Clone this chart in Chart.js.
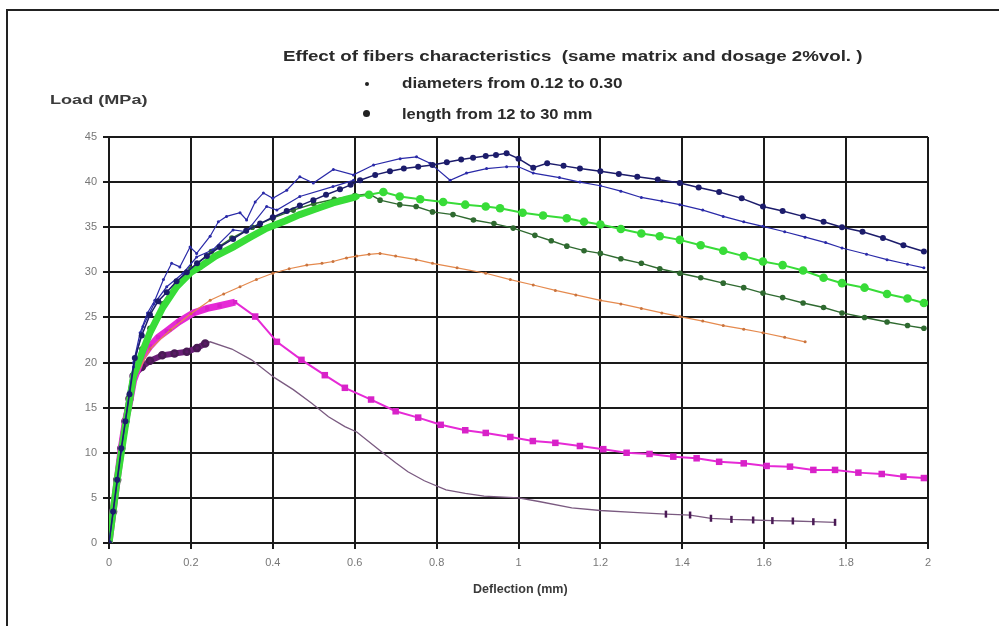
<!DOCTYPE html>
<html>
<head>
<meta charset="utf-8">
<script src="https://cdn.jsdelivr.net/npm/chart.js@4"></script>
<style>
  html, body { margin: 0; padding: 0; background: #fff; }
  body { width: 999px; height: 626px; position: relative; overflow: hidden; font-family: "Liberation Sans", Arial, sans-serif; }
  #frame { position: absolute; left: 6px; top: 9px; width: 1000px; height: 640px; border-top: 2px solid #222; border-left: 2px solid #222; }
  canvas { position: absolute; left: 0; top: 0; }
  .txt { position: absolute; white-space: nowrap; font-weight: bold; color: #2a2a2a; transform-origin: 0 50%; }
  .dot { position: absolute; background: #222; border-radius: 50%; }
</style>
</head>
<body>
<div id="frame"></div>
<canvas id="chart" width="999" height="626"></canvas>
<div class="txt" id="title" data-w="579" style="left:283px; top:47px; font-size:15px;">Effect of fibers characteristics&nbsp; (same matrix and dosage 2%vol. )</div>
<div class="dot" style="left:365px; top:82px; width:4px; height:4px;"></div>
<div class="txt" id="sub1" data-w="220" style="left:402px; top:74px; font-size:15px;">diameters from 0.12 to 0.30</div>
<div class="dot" style="left:363px; top:110px; width:7px; height:7px;"></div>
<div class="txt" id="sub2" data-w="190" style="left:402px; top:105px; font-size:15px;">length from 12 to 30 mm</div>
<div class="txt" id="ylab" data-w="98" style="left:50px; top:93px; font-size:12px; color:#3a3a3a;">Load (MPa)</div>
<div class="txt" id="xlab" data-w="95" style="left:473px; top:582px; font-size:12px; color:#3a3a3a;">Deflection (mm)</div>
<script>
// axis ticks
const xTicks = [0, 0.2, 0.4, 0.6, 0.8, 1, 1.2, 1.4, 1.6, 1.8, 2];
const yTicks = [0, 5, 10, 15, 20, 25, 30, 35, 40, 45];

// length series (big navy dots)
const navyX = [0, 0.01, 0.02, 0.03, 0.04, 0.05, 0.063, 0.08, 0.1, 0.12, 0.141, 0.165, 0.19, 0.215, 0.239, 0.27, 0.303, 0.335, 0.369, 0.40, 0.434, 0.466, 0.499, 0.53, 0.564, 0.59, 0.613, 0.65, 0.686, 0.72, 0.755, 0.79, 0.825, 0.86, 0.889, 0.92, 0.945, 0.971, 1.0, 1.036, 1.07, 1.11, 1.15, 1.2, 1.245, 1.29, 1.34, 1.394, 1.44, 1.49, 1.545, 1.597, 1.645, 1.695, 1.745, 1.79, 1.84, 1.89, 1.94, 1.99];
const navyY = [0, 3.5, 7, 10.5, 13.5, 16.5, 20.5, 23, 25.3, 26.8, 27.8, 29, 30, 31, 31.8, 32.8, 33.7, 34.6, 35.4, 36.1, 36.8, 37.4, 38, 38.6, 39.2, 39.7, 40.2, 40.8, 41.2, 41.5, 41.7, 41.9, 42.2, 42.5, 42.7, 42.9, 43.0, 43.2, 42.6, 41.6, 42.1, 41.8, 41.5, 41.2, 40.9, 40.6, 40.3, 39.9, 39.4, 38.9, 38.2, 37.3, 36.8, 36.2, 35.6, 35.0, 34.5, 33.8, 33.0, 32.3];

// diameter series (thin blue, jagged before peak)
const blueX = [0, 0.01, 0.02, 0.03, 0.04, 0.05, 0.06, 0.076, 0.094, 0.112, 0.133, 0.153, 0.173, 0.198, 0.214, 0.247, 0.267, 0.287, 0.32, 0.336, 0.357, 0.377, 0.40, 0.434, 0.466, 0.499, 0.548, 0.597, 0.646, 0.711, 0.751, 0.784, 0.833, 0.873, 0.922, 0.971, 1.0, 1.036, 1.1, 1.15, 1.2, 1.25, 1.3, 1.35, 1.394, 1.45, 1.5, 1.55, 1.597, 1.65, 1.7, 1.75, 1.79, 1.85, 1.9, 1.95, 1.99];
const blueY = [0, 3.3, 6.8, 10.2, 13.5, 16.8, 20, 23.3, 25.5, 26.9, 29.2, 31.0, 30.6, 32.8, 32.1, 34.0, 35.6, 36.2, 36.6, 35.8, 37.8, 38.8, 38.2, 39.1, 40.6, 39.9, 41.4, 40.8, 41.9, 42.6, 42.8, 42.1, 40.2, 41.0, 41.5, 41.7, 41.7, 41.0, 40.5, 40.0, 39.6, 39.0, 38.3, 37.9, 37.5, 36.9, 36.2, 35.6, 35.1, 34.5, 33.9, 33.3, 32.7, 32.0, 31.4, 30.9, 30.5];

// second jagged blue trace
const blue2X = [0.06, 0.083, 0.11, 0.141, 0.181, 0.214, 0.254, 0.303, 0.336, 0.385, 0.41, 0.466, 0.547, 0.597];
const blue2Y = [19.5, 24.0, 26.5, 28.4, 29.9, 31.7, 32.5, 34.7, 34.5, 37.3, 36.9, 38.4, 39.5, 40.2];

// light green (big dots)
const lgreenX = [0, 0.02, 0.04, 0.06, 0.08, 0.1, 0.13, 0.165, 0.2, 0.222, 0.26, 0.303, 0.345, 0.385, 0.43, 0.466, 0.51, 0.547, 0.58, 0.605, 0.635, 0.67, 0.71, 0.76, 0.816, 0.87, 0.92, 0.955, 1.01, 1.06, 1.118, 1.16, 1.2, 1.25, 1.3, 1.345, 1.394, 1.445, 1.5, 1.55, 1.597, 1.645, 1.695, 1.745, 1.79, 1.845, 1.9, 1.95, 1.99];
const lgreenY = [0, 7, 13, 18.5, 21, 23.3, 26, 28.4, 30, 30.6, 31.8, 32.8, 33.9, 34.9, 35.7, 36.4, 37.1, 37.7, 38.1, 38.4, 38.6, 38.9, 38.4, 38.1, 37.8, 37.5, 37.3, 37.1, 36.6, 36.3, 36.0, 35.6, 35.3, 34.8, 34.3, 34.0, 33.6, 33.0, 32.4, 31.8, 31.2, 30.8, 30.2, 29.4, 28.8, 28.3, 27.6, 27.1, 26.6];

// dark green (small dots)
const dgreenX = [0, 0.02, 0.04, 0.06, 0.08, 0.1, 0.13, 0.165, 0.2, 0.25, 0.3, 0.35, 0.4, 0.45, 0.5, 0.55, 0.6, 0.635, 0.662, 0.71, 0.75, 0.79, 0.84, 0.89, 0.94, 0.987, 1.04, 1.08, 1.118, 1.16, 1.2, 1.25, 1.3, 1.345, 1.394, 1.445, 1.5, 1.55, 1.597, 1.645, 1.695, 1.745, 1.79, 1.845, 1.9, 1.95, 1.99];
const dgreenY = [0, 7, 13, 18.5, 21.5, 23.8, 26.5, 28.8, 30.4, 32.3, 33.8, 35.0, 36.0, 36.9, 37.6, 38.1, 38.5, 38.7, 38.0, 37.5, 37.3, 36.7, 36.4, 35.8, 35.4, 34.9, 34.1, 33.5, 32.9, 32.4, 32.1, 31.5, 31.0, 30.4, 29.9, 29.4, 28.8, 28.3, 27.7, 27.2, 26.6, 26.1, 25.5, 25.0, 24.5, 24.1, 23.8];

// orange (small dots)
const orangeX = [0, 0.02, 0.04, 0.06, 0.1, 0.15, 0.2, 0.247, 0.28, 0.32, 0.36, 0.40, 0.44, 0.483, 0.52, 0.547, 0.58, 0.605, 0.635, 0.662, 0.7, 0.75, 0.79, 0.85, 0.92, 0.98, 1.036, 1.09, 1.14, 1.2, 1.25, 1.3, 1.35, 1.394, 1.45, 1.5, 1.55, 1.597, 1.65, 1.70];
const orangeY = [0, 7, 13, 18, 21.5, 23.6, 25.4, 26.9, 27.6, 28.4, 29.2, 29.9, 30.4, 30.8, 31.0, 31.2, 31.6, 31.8, 32.0, 32.1, 31.8, 31.4, 31.0, 30.5, 29.9, 29.2, 28.6, 28.0, 27.5, 26.9, 26.5, 26.0, 25.5, 25.1, 24.6, 24.1, 23.7, 23.3, 22.8, 22.3];

// magenta (squares)
const pinkX = [0, 0.01, 0.02, 0.03, 0.04, 0.05, 0.06, 0.08, 0.1, 0.12, 0.141, 0.17, 0.206, 0.24, 0.27, 0.308, 0.357, 0.41, 0.47, 0.527, 0.576, 0.64, 0.70, 0.755, 0.81, 0.87, 0.92, 0.98, 1.035, 1.09, 1.15, 1.207, 1.264, 1.32, 1.378, 1.435, 1.49, 1.55, 1.606, 1.663, 1.72, 1.773, 1.83, 1.887, 1.94, 1.99];
const pinkY = [0, 3.5, 7, 10.5, 13.5, 15.5, 18, 20.5, 21.8, 22.8, 23.5, 24.5, 25.5, 26.0, 26.3, 26.7, 25.1, 22.3, 20.3, 18.6, 17.2, 15.9, 14.6, 13.9, 13.1, 12.5, 12.2, 11.75, 11.3, 11.1, 10.75, 10.4, 10.0, 9.87, 9.57, 9.39, 9.0, 8.83, 8.54, 8.46, 8.1, 8.1, 7.8, 7.65, 7.35, 7.2];

// purple (thick start, thin tail)
const purpleX = [0, 0.01, 0.02, 0.03, 0.04, 0.05, 0.06, 0.08, 0.1, 0.13, 0.16, 0.19, 0.215, 0.235, 0.247, 0.3, 0.348, 0.405, 0.45, 0.495, 0.536, 0.576, 0.605, 0.66, 0.7, 0.73, 0.77, 0.823, 0.87, 0.916, 1.0, 1.05, 1.13, 1.2, 1.28, 1.36, 1.419, 1.47, 1.52, 1.573, 1.62, 1.67, 1.72, 1.773];
const purpleY = [0, 3.5, 7, 10.5, 13.5, 16, 18.5, 19.5, 20.2, 20.8, 21.0, 21.2, 21.6, 22.1, 22.3, 21.5, 20.3, 18.3, 17.0, 15.5, 14.0, 12.9, 12.3, 10.3, 8.9, 7.9, 6.9, 5.9, 5.5, 5.2, 5.0, 4.6, 3.9, 3.6, 3.4, 3.2, 3.1, 2.74, 2.62, 2.55, 2.48, 2.44, 2.36, 2.29];

function pts(xs, ys) {
  return xs.map((x, i) => ({ x: x, y: ys[i] }));
}

// thick band before a given deflection, thin line after
function bandWidth(limit, thick, thin) {
  return ctx => (ctx.p1.parsed.x <= limit ? thick : thin);
}
function markerSize(limit, before, after) {
  return ctx => {
    const p = ctx.raw;
    if (!p) return after;
    return p.x <= limit ? before : after;
  };
}

const datasets = [
  {
    data: pts(navyX, navyY),
    borderColor: "#1c1c6b", backgroundColor: "#1c1c6b",
    borderWidth: 1.5, pointRadius: 3, pointBorderWidth: 0
  },
  {
    data: pts(blueX, blueY),
    borderColor: "#2a2aa8", backgroundColor: "#2a2aa8",
    borderWidth: 1.2, pointRadius: 1.5, pointBorderWidth: 0
  },
  {
    data: pts(blue2X, blue2Y),
    borderColor: "#2a2aa8", backgroundColor: "#2a2aa8",
    borderWidth: 1.2, pointRadius: 1.5, pointBorderWidth: 0
  },
  {
    data: pts(lgreenX, lgreenY),
    borderColor: "#38dc38", backgroundColor: "#38dc38",
    segment: { borderWidth: bandWidth(0.62, 7, 2) },
    pointRadius: markerSize(0.62, 3, 4.3), pointBorderWidth: 0
  },
  {
    data: pts(dgreenX, dgreenY),
    borderColor: "#2f6a30", backgroundColor: "#2f6a30",
    borderWidth: 1.4, pointRadius: 2.8, pointBorderWidth: 0
  },
  {
    data: pts(orangeX, orangeY),
    borderColor: "#e58a4e", backgroundColor: "#c9743e",
    borderWidth: 1.2, pointRadius: 1.5, pointBorderWidth: 0
  },
  {
    data: pts(pinkX, pinkY),
    borderColor: "#e62ad6", backgroundColor: "#d822c8",
    segment: { borderWidth: bandWidth(0.31, 7, 2) },
    pointStyle: "rect", pointRadius: markerSize(0.31, 3, 4.6), pointBorderWidth: 0
  },
  {
    data: pts(purpleX, purpleY),
    borderColor: "#6b1f78", backgroundColor: "#5a1a66",
    segment: {
      borderWidth: bandWidth(0.24, 6, 1.3),
      borderColor: ctx => (ctx.p1.parsed.x <= 0.24 ? "#6b1f78" : "#7a5a80")
    },
    pointStyle: ctx => (ctx.raw && ctx.raw.x > 1.3 ? "line" : "circle"),
    rotation: 90,
    pointRadius: ctx => {
      const p = ctx.raw;
      if (!p) return 0;
      if (p.x <= 0.24) return 3;
      return p.x > 1.3 ? 3.5 : 0;
    },
    pointBorderWidth: 2.5, pointBorderColor: "#4a1a55"
  }
];

const gridOpts = { color: "#1a1a1a", lineWidth: 2, tickLength: 6, tickColor: "#1a1a1a", tickWidth: 2 };
const tickFont = { family: "Liberation Sans, Arial, sans-serif", size: 11 };

new Chart(document.getElementById("chart"), {
  type: "scatter",
  data: { datasets: datasets.map(d => Object.assign({ showLine: true, tension: 0 }, d)) },
  options: {
    responsive: false,
    animation: false,
    devicePixelRatio: 1,
    layout: { padding: { left: 0, top: 137, right: 71, bottom: 0 } },
    plugins: { legend: { display: false }, tooltip: { enabled: false } },
    scales: {
      x: {
        type: "linear", min: 0, max: 2,
        afterBuildTicks: scale => { scale.ticks = xTicks.map(v => ({ value: v })); },
        afterFit: scale => { scale.height = 83; },
        grid: gridOpts,
        border: { color: "#1a1a1a", width: 2 },
        ticks: { color: "#777", font: tickFont, padding: 7, maxRotation: 0, callback: v => String(v) }
      },
      y: {
        type: "linear", min: 0, max: 45,
        afterBuildTicks: scale => { scale.ticks = yTicks.map(v => ({ value: v })); },
        afterFit: scale => { scale.width = 109; },
        grid: gridOpts,
        border: { color: "#1a1a1a", width: 2 },
        ticks: { color: "#777", font: tickFont, padding: 6, callback: v => String(v) }
      }
    }
  }
});

// stretch the text blocks to the widths seen in the picture
document.querySelectorAll(".txt").forEach(el => {
  const w = +el.dataset.w;
  const s = w / el.offsetWidth;
  el.style.transform = "scaleX(" + s.toFixed(3) + ")";
});
</script>
</body>
</html>
